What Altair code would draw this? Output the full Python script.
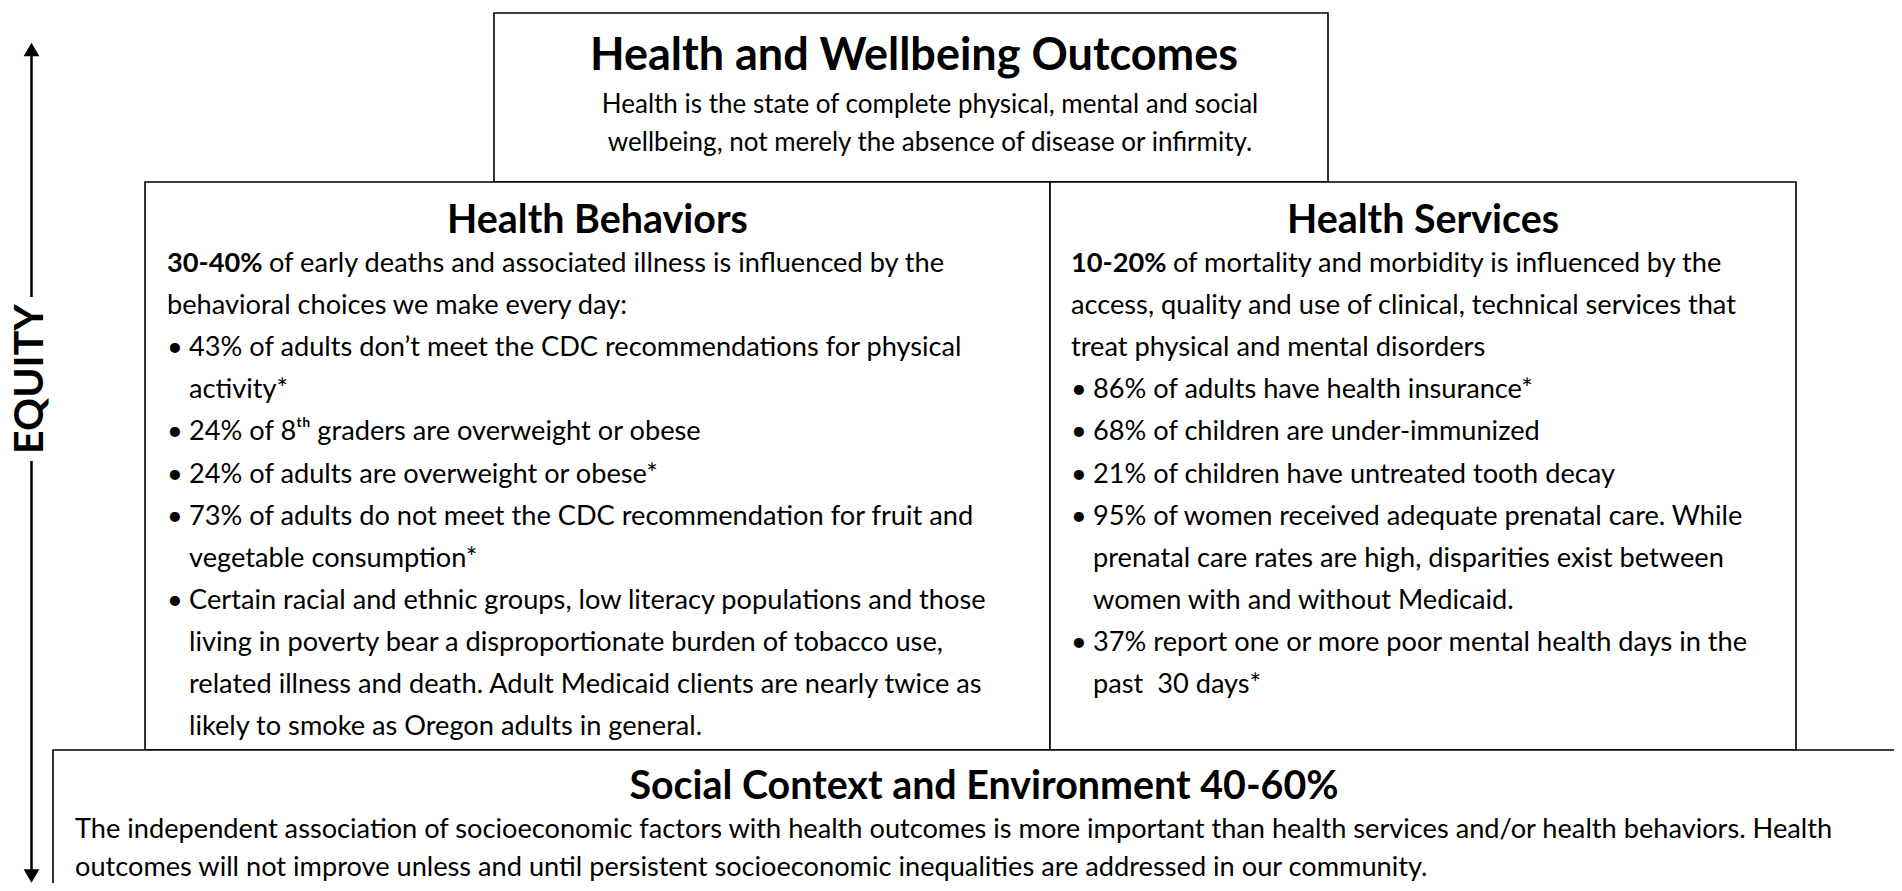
import altair as alt
import pandas as pd

# ---------------- text content ----------------
top_title = "Health and Wellbeing Outcomes"
top_lines = [
    "Health is the state of complete physical, mental and social",
    "wellbeing, not merely the absence of disease or infirmity.",
]

hb_title = "Health Behaviors"
hb_lead = "30-40%"
hb_lines = [
    "of early deaths and associated illness is influenced by the",
    "behavioral choices we make every day:",
    "43% of adults don\u2019t meet the CDC recommendations for physical",
    "activity*",
    "24% of 8\u1d57\u02b0 graders are overweight or obese",
    "24% of adults are overweight or obese*",
    "73% of adults do not meet the CDC recommendation for fruit and",
    "vegetable consumption*",
    "Certain racial and ethnic groups, low literacy populations and those",
    "living in poverty bear a disproportionate burden of tobacco use,",
    "related illness and death. Adult Medicaid clients are nearly twice as",
    "likely to smoke as Oregon adults in general.",
]
hb_kind = ["lead", "para", "bullet", "cont", "bullet", "bullet", "bullet", "cont",
           "bullet", "cont", "cont", "cont"]

hs_title = "Health Services"
hs_lead = "10-20%"
hs_lines = [
    "of mortality and morbidity is influenced by the",
    "access, quality and use of clinical, technical services that",
    "treat physical and mental disorders",
    "86% of adults have health insurance*",
    "68% of children are under-immunized",
    "21% of children have untreated tooth decay",
    "95% of women received adequate prenatal care. While",
    "prenatal care rates are high, disparities exist between",
    "women with and without Medicaid.",
    "37% report one or more poor mental health days in the",
    "past \u00a030 days*",
]
hs_kind = ["lead", "para", "para", "bullet", "bullet", "bullet", "bullet", "cont",
           "cont", "bullet", "cont"]

sc_title = "Social Context and Environment 40-60%"
sc_lines = [
    "The independent association of socioeconomic factors with health outcomes is more important than health services and/or health behaviors. Health",
    "outcomes will not improve unless and until persistent socioeconomic inequalities are addressed in our community.",
]

axis_label = "EQUITY"

# ---------------- layout (page pixels) ----------------
PAGE = 8
W, H = 1886, 875
FONT = "Lato"
BODY = 27.2
SUB = 26
TITLE_TOP = 45
TITLE_SEC = 39.4
LINE_STEP = 42.1
FIRST_BASE = 272
LEAD_W = 102

xs = alt.Scale(domain=[PAGE, PAGE + W], nice=False, zero=False)
ys = alt.Scale(domain=[PAGE, PAGE + H], nice=False, zero=False, reverse=True)

boxes = pd.DataFrame([
    dict(x=494, x2=1328, y=13, y2=182),
    dict(x=145, x2=1050, y=182, y2=750),
    dict(x=1050, x2=1796, y=182, y2=750),
    dict(x=53, x2=1940, y=750, y2=920),
])

titles = pd.DataFrame([
    dict(x=914, y=70, text=top_title, size=TITLE_TOP),
    dict(x=597.5, y=233, text=hb_title, size=TITLE_SEC),
    dict(x=1423, y=233, text=hs_title, size=TITLE_SEC),
    dict(x=984, y=799, text=sc_title, size=TITLE_SEC),
])

center_rows = [dict(x=930, y=113 + 38 * i, text=t) for i, t in enumerate(top_lines)]

body_rows, lead_rows = [], []


def add_panel(lines, kinds, lead, x0):
    for i, (t, k) in enumerate(zip(lines, kinds)):
        y = FIRST_BASE + LINE_STEP * i
        if k == "lead":
            lead_rows.append(dict(x=x0, y=y, text=lead))
            body_rows.append(dict(x=x0 + LEAD_W, y=y, text=t))
        elif k == "para":
            body_rows.append(dict(x=x0, y=y, text=t))
        else:
            if k == "bullet":
                body_rows.append(dict(x=x0, y=y, text="\u2022"))
            body_rows.append(dict(x=x0 + 22, y=y, text=t))


add_panel(hb_lines, hb_kind, hb_lead, 167)
add_panel(hs_lines, hs_kind, hs_lead, 1071)
for i, t in enumerate(sc_lines):
    body_rows.append(dict(x=75, y=838 + 38 * i, text=t))

arrow_lines = pd.DataFrame([
    dict(x=31.5, y=56, y2=297),
    dict(x=31.5, y=461, y2=872),
])
arrow_heads = pd.DataFrame([
    dict(x=31.5, y=49.5, shape="triangle-up"),
    dict(x=31.5, y=876, shape="triangle-down"),
])
equity = pd.DataFrame([dict(x=31, y=379, text=axis_label)])


def X(f="x"):
    return alt.X(f"{f}:Q", scale=xs, axis=None)


def Y(f="y"):
    return alt.Y(f"{f}:Q", scale=ys, axis=None)


box_layer = alt.Chart(boxes).mark_rect(
    fill="white", stroke="black", strokeWidth=1.6, clip=True
).encode(x=X(), x2="x2:Q", y=Y(), y2="y2:Q")

title_layer = alt.Chart(titles).mark_text(
    font=FONT, fontWeight="bold", align="center", baseline="alphabetic", color="black"
).encode(x=X(), y=Y(), text="text:N", size=alt.Size("size:Q", scale=None, legend=None))

center_layer = alt.Chart(pd.DataFrame(center_rows)).mark_text(
    font=FONT, fontSize=SUB, align="center", baseline="alphabetic", color="black"
).encode(x=X(), y=Y(), text="text:N")

body_layer = alt.Chart(pd.DataFrame(body_rows)).mark_text(
    font=FONT, fontSize=BODY, align="left", baseline="alphabetic", color="black"
).encode(x=X(), y=Y(), text="text:N")

lead_layer = alt.Chart(pd.DataFrame(lead_rows)).mark_text(
    font=FONT, fontSize=BODY, fontWeight="bold", align="left", baseline="alphabetic",
    color="black"
).encode(x=X(), y=Y(), text="text:N")

line_layer = alt.Chart(arrow_lines).mark_rule(color="black", strokeWidth=2.5).encode(
    x=X(), y=Y(), y2="y2:Q"
)

head_layer = alt.Chart(arrow_heads).mark_point(
    filled=True, color="black", size=250, opacity=1, clip=True
).encode(x=X(), y=Y(), shape=alt.Shape("shape:N", scale=None, legend=None))

equity_layer = alt.Chart(equity).mark_text(
    font=FONT, fontSize=41, fontWeight="bold", angle=270, align="center",
    baseline="middle", color="black"
).encode(x=X(), y=Y(), text="text:N")

chart = alt.layer(
    box_layer, line_layer, head_layer, title_layer, center_layer, body_layer,
    lead_layer, equity_layer
).properties(
    width=W, height=H, padding=0, autosize=alt.AutoSizeParams(type="none")
).configure_view(stroke=None)

chart.save("out.html", embed_options={"renderer": "svg", "actions": False})
